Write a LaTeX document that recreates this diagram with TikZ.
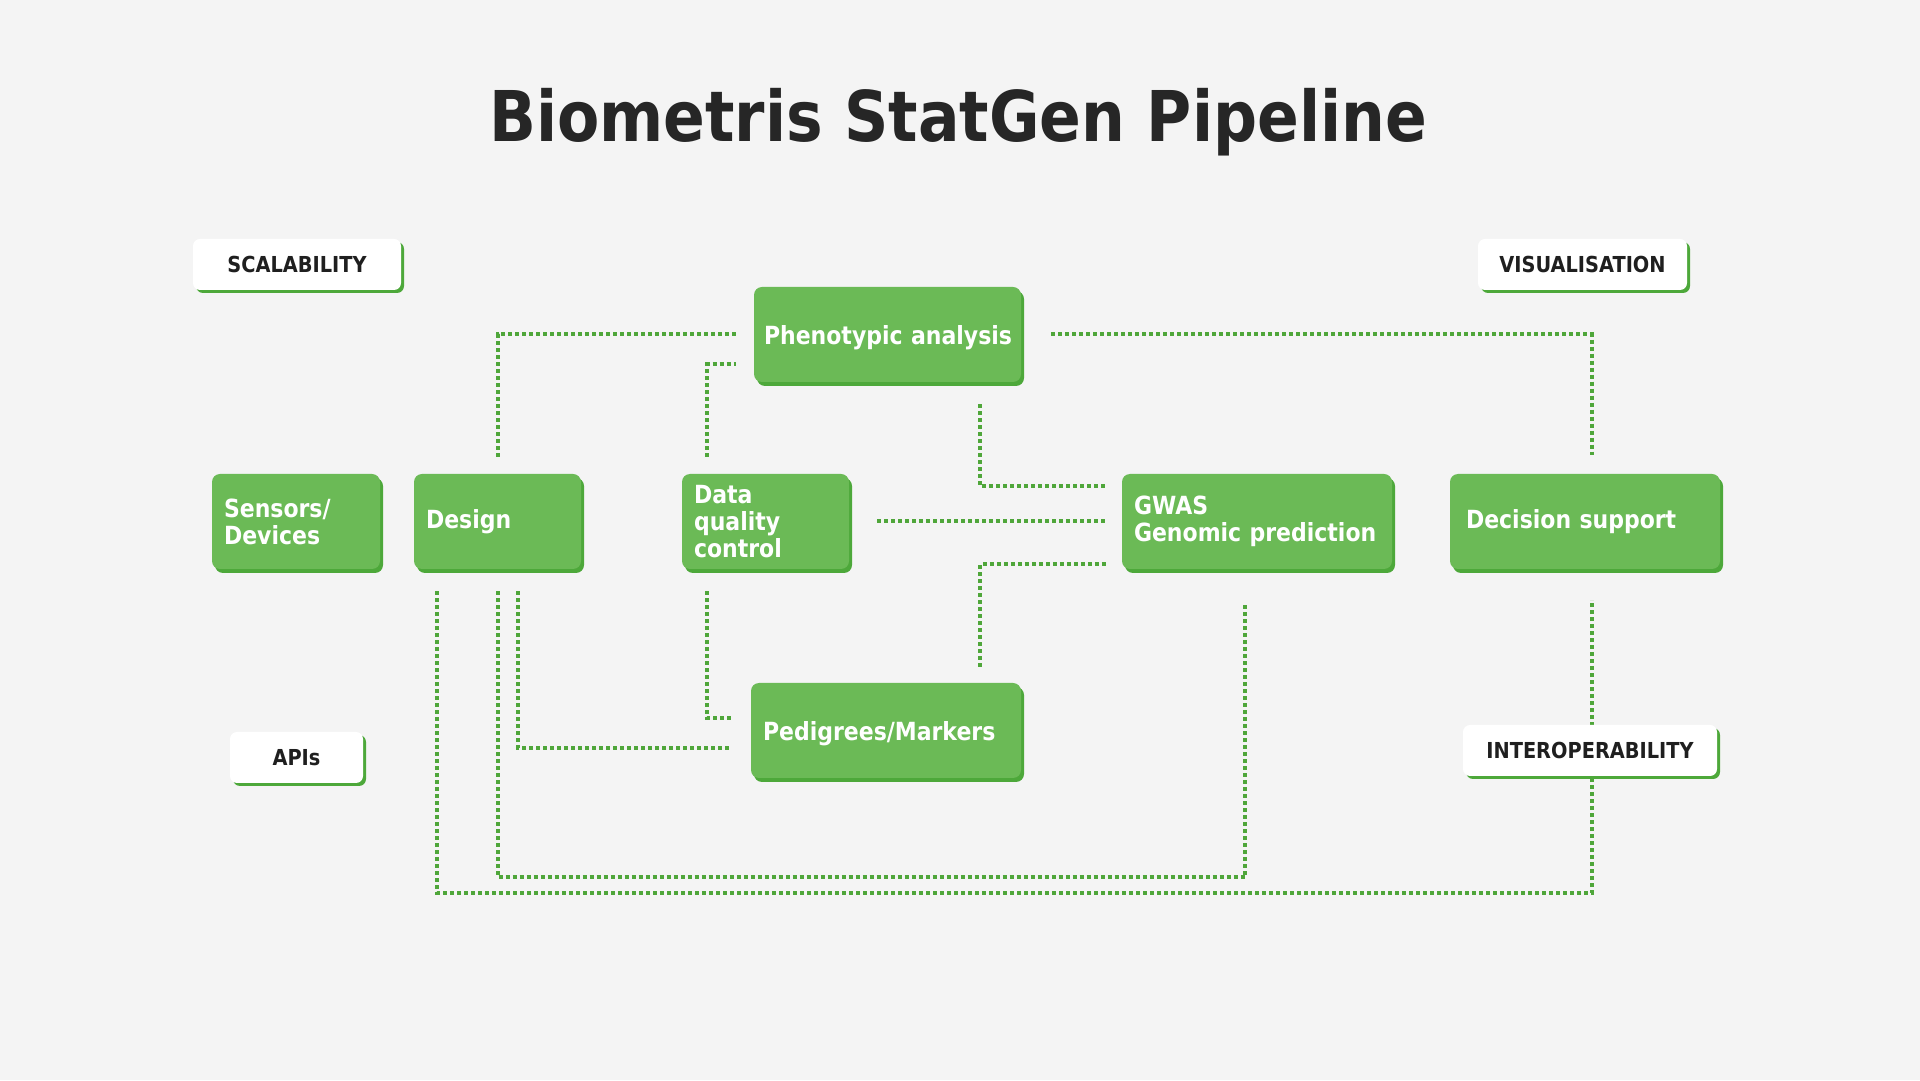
\documentclass[tikz,border=0pt]{standalone}
\usepackage{fontspec}
\setmainfont{DejaVu Sans}[FakeStretch=0.88]
\usetikzlibrary{shadows,calc}
\definecolor{bgc}{HTML}{F4F4F4}
\definecolor{gfill}{HTML}{6BBA56}
\definecolor{gdark}{HTML}{4DA83A}
\definecolor{gline}{HTML}{4FA63A}
\definecolor{labeltext}{HTML}{1F1F1F}
\definecolor{titlec}{HTML}{262626}
\begin{document}
\begin{tikzpicture}[x=1pt,y=1pt,
  gbox/.style={rounded corners=8pt, fill=gfill, text=white,
    font=\bfseries\fontsize{25}{27}\selectfont, align=left,
    inner xsep=12pt, inner ysep=4pt, minimum height=95pt,
    drop shadow={shadow xshift=3pt, shadow yshift=-4pt, fill=gdark, opacity=1}},
  wbox/.style={rounded corners=7pt, fill=white, text=labeltext,
    font=\bfseries\fontsize{22}{24}\selectfont, minimum height=51pt,
    drop shadow={shadow xshift=3pt, shadow yshift=-3pt, fill=gdark, opacity=1}},
  conn/.style={draw=gline, line width=4pt, dash pattern=on 4pt off 3pt}
]
\fill[bgc] (0,0) rectangle (1920,1080);
\useasboundingbox (0,0) rectangle (1920,1080);

\node[font=\bfseries\fontsize{70}{80}\selectfont, text=titlec] (title) at (958,958) {Biometris StatGen Pipeline};

\node[gbox, text width=144pt] (sensors) at (296,558.5) {Sensors/\\Devices};
\node[gbox, text width=143pt] (design) at (497.5,558.5) {Design};
\node[gbox, text width=143pt] (dqc) at (765.5,558.5) {Data\\quality\\control};
\node[gbox, text width=246pt] (gwas) at (1257,558.5) {\mbox{GWAS}\\\mbox{Genomic prediction}};
\node[gbox, inner xsep=16pt, text width=238pt] (decision) at (1585,558.5) {\mbox{Decision support}};
\node[gbox, inner xsep=10pt, text width=247pt, text height=21pt, text depth=0pt] (pheno) at (887.5,745.5) {\mbox{Phenotypic analysis}};
\node[gbox, text width=246pt, text height=21pt, text depth=0pt] (pedigrees) at (886,349.5) {\mbox{Pedigrees/Markers}};

\draw[conn, shorten <=17pt, shorten >=18pt] (design.north) |- (pheno.west);
\draw[conn, shorten <=17pt, shorten >=18pt] ([xshift=25pt]dqc.north west) |- ([yshift=-30pt]pheno.west);
\draw[conn, shorten <=30pt, shorten >=19pt] (pheno.east) -| ([xshift=7pt]decision.north);
\draw[conn, shorten <=22pt, shorten >=16pt] ([xshift=-41pt]pheno.south east) |- ([yshift=35.5pt]gwas.west);
\draw[conn, shorten <=28pt, shorten >=17pt] (dqc.east) -- (gwas.west);
\draw[conn, shorten <=16pt, shorten >=14pt] ([xshift=-41pt]pedigrees.north east) |- ([yshift=-43pt]gwas.west);
\draw[conn, shorten <=22pt, shorten >=19pt] ([xshift=25pt]dqc.south west) |- ([yshift=12.5pt]pedigrees.west);
\draw[conn, shorten <=22pt, shorten >=19pt] ([xshift=20.5pt]design.south) |- ([yshift=-17.5pt]pedigrees.west);
\draw[conn, shorten <=22pt, shorten >=33pt] (design.south) -- ++(0,-308) -| ([xshift=-12pt]gwas.south);
\draw[conn, shorten <=22pt, shorten >=31pt] ([xshift=-60.5pt]design.south) -- ++(0,-324) -| ([xshift=7pt]decision.south);

\node[wbox, minimum width=208pt] (scal) at (297,815.5) {SCALABILITY};
\node[wbox, minimum width=209pt] (vis) at (1582.5,815.5) {VISUALISATION};
\node[wbox, minimum width=133pt] (apis) at (296.5,322.5) {APIs};
\node[wbox, minimum width=254pt] (interop) at (1590,329.5) {INTEROPERABILITY};
\end{tikzpicture}
\end{document}
